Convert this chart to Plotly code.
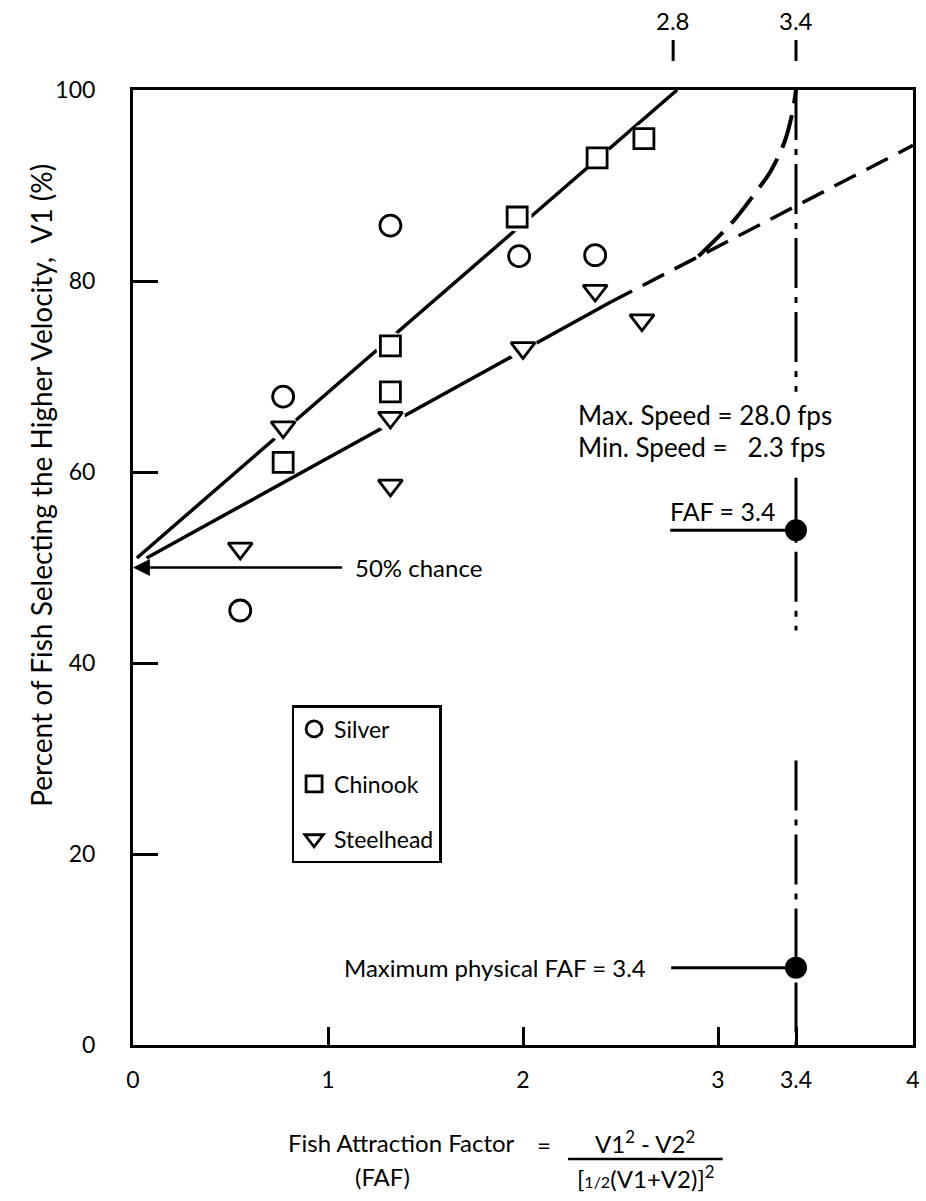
import plotly.graph_objects as go

# ---------------- data ----------------
silver_x = [0.55, 0.77, 1.32, 1.98, 2.37]
silver_y = [45.5, 67.9, 85.8, 82.6, 82.7]

chinook_x = [0.77, 1.32, 1.32, 1.97, 2.38, 2.62]
chinook_y = [61.0, 73.2, 68.4, 86.7, 92.9, 94.9]

steelhead_x = [0.55, 0.77, 1.32, 1.32, 2.00, 2.37, 2.61]
steelhead_y = [52.0, 64.7, 65.7, 58.6, 73.0, 79.0, 75.9]

chinook_fit_x = [0.02, 2.79]
chinook_fit_y = [51.0, 100.0]

steelhead_fit_x = [0.07, 2.45]
steelhead_fit_y = [51.0, 77.8]

steelhead_ext_x = [2.45, 4.0]
steelhead_ext_y = [77.8, 94.2]

curve_x = [2.90, 3.08, 3.19, 3.27, 3.34, 3.38, 3.40]
curve_y = [82.6, 86.3, 89.2, 91.5, 94.5, 97.5, 100.0]

faf_max = 3.4
faf_line_y = [100, 68.4, None, 59.4, 43.4, None, 29.8, 0]
faf_dot_y = [53.9, 8.1]

x_tickvals = [0, 1, 2, 3, 3.4, 4]
x_ticktext = ["0", "1", "2", "3", "3.4", "4"]
y_tickvals = [0, 20, 40, 60, 80, 100]
top_marks = [2.77, 3.4]
top_labels = ["2.8", "3.4"]

FONT = "Lato, 'Noto Sans', sans-serif"
W, H = 926, 1201
L, R, T, B = 133, 6, 90, 156
PW, PH = W - L - R, H - T - B


def px(xp):
    return (xp - L) / PW


def py(yp):
    return (H - B - yp) / PH


fig = go.Figure()

# fitted lines
fig.add_trace(go.Scatter(x=chinook_fit_x, y=chinook_fit_y, mode="lines",
                         line=dict(color="black", width=3.5), showlegend=False, hoverinfo="skip"))
fig.add_trace(go.Scatter(x=steelhead_fit_x, y=steelhead_fit_y, mode="lines",
                         line=dict(color="black", width=3.5), showlegend=False, hoverinfo="skip"))
fig.add_trace(go.Scatter(x=steelhead_ext_x, y=steelhead_ext_y, mode="lines",
                         line=dict(color="black", width=3.5, dash="24px,12px"),
                         showlegend=False, hoverinfo="skip"))
fig.add_trace(go.Scatter(x=curve_x, y=curve_y, mode="lines",
                         line=dict(color="black", width=4, dash="34px,12px", shape="spline"),
                         showlegend=False, hoverinfo="skip"))
# vertical FAF = 3.4 line
fig.add_trace(go.Scatter(x=[faf_max if v is not None else None for v in faf_line_y], y=faf_line_y,
                         mode="lines", connectgaps=False,
                         line=dict(color="black", width=3, dash="50px,9px,6px,9px"),
                         showlegend=False, hoverinfo="skip"))

# white halos (gaps in lines around symbols)
fig.add_trace(go.Scatter(x=silver_x + chinook_x + steelhead_x,
                         y=silver_y + chinook_y + steelhead_y, mode="markers",
                         marker=dict(size=29, color="white", line=dict(width=0)),
                         showlegend=False, hoverinfo="skip"))

# data points
mk = dict(color="white", line=dict(color="black", width=2.8))
fig.add_trace(go.Scatter(x=silver_x, y=silver_y, mode="markers", name="Silver",
                         legendgroup="a", marker=dict(symbol="circle", size=21, **mk)))
fig.add_trace(go.Scatter(x=chinook_x, y=chinook_y, mode="markers", name="Chinook",
                         legendgroup="b", marker=dict(symbol="square", size=20, **mk)))
fig.add_trace(go.Scatter(x=steelhead_x, y=steelhead_y, mode="markers", name="Steelhead",
                         legendgroup="c", marker=dict(symbol="triangle-down", size=21, **mk)))

# FAF pointer lines and dots
fig.add_trace(go.Scatter(x=[2.755, faf_max], y=[faf_dot_y[0]] * 2, mode="lines",
                         line=dict(color="black", width=3), showlegend=False, hoverinfo="skip"))
fig.add_trace(go.Scatter(x=[2.76, faf_max], y=[faf_dot_y[1]] * 2, mode="lines",
                         line=dict(color="black", width=3), showlegend=False, hoverinfo="skip"))
fig.add_trace(go.Scatter(x=[faf_max] * 2, y=faf_dot_y, mode="markers",
                         marker=dict(size=22, color="black"), showlegend=False, hoverinfo="skip"))

TS = 24
ann = []
# 50 % chance arrow
ann.append(dict(x=0.0, y=50, ax=1.08, ay=50, xref="x", yref="y", axref="x", ayref="y",
                text="", showarrow=True, arrowhead=2, arrowsize=1.3, arrowwidth=2.6,
                arrowcolor="black", standoff=0))
ann.append(dict(x=1.13, y=50, xref="x", yref="y", text="50% chance", showarrow=False,
                xanchor="left", yanchor="middle", font=dict(size=TS)))
ann.append(dict(x=3.30, y=55.9, xref="x", yref="y", text="FAF = 3.4", showarrow=False,
                xanchor="right", yanchor="middle", font=dict(size=TS + 1)))
ann.append(dict(x=2.64, y=8.1, xref="x", yref="y", text="Maximum physical FAF = 3.4",
                showarrow=False, xanchor="right", yanchor="middle", font=dict(size=TS)))
ann.append(dict(x=2.27, y=66.0, xref="x", yref="y", text="Max. Speed = 28.0 fps",
                showarrow=False, xanchor="left", yanchor="middle", font=dict(size=26)))
ann.append(dict(x=2.27, y=62.6, xref="x", yref="y", text="Min. Speed =   2.3 fps",
                showarrow=False, xanchor="left", yanchor="middle", font=dict(size=26)))

# top marks
for v, t in zip(top_marks, top_labels):
    ann.append(dict(x=v, y=py(21), xref="x", yref="paper", text=t, showarrow=False,
                    xanchor="center", yanchor="middle", font=dict(size=TS)))

# y-axis title
ann.append(dict(x=px(40), y=py(485), xref="paper", yref="paper",
                text="Percent of Fish Selecting the Higher Velocity,  V1 (%)",
                textangle=-90, showarrow=False, xanchor="center", yanchor="middle",
                font=dict(size=28)))

# x-axis formula title
FS = 24
ann.append(dict(x=px(520), y=py(1142), xref="paper", yref="paper",
                text="Fish Attraction Factor", showarrow=False, xanchor="right",
                yanchor="middle", font=dict(size=FS)))
ann.append(dict(x=px(385), y=py(1176), xref="paper", yref="paper", text="(FAF)",
                showarrow=False, xanchor="center", yanchor="middle", font=dict(size=FS)))
ann.append(dict(x=px(548), y=py(1144), xref="paper", yref="paper", text="=",
                showarrow=False, xanchor="center", yanchor="middle", font=dict(size=FS)))
ann.append(dict(x=px(650), y=py(1142), xref="paper", yref="paper",
                text="V1<sup>2</sup> - V2<sup>2</sup>", showarrow=False,
                xanchor="center", yanchor="middle", font=dict(size=FS)))
ann.append(dict(x=px(650), y=py(1177), xref="paper", yref="paper",
                text="[<span style='font-size:16px'>1/2</span>(V1+V2)]<sup>2</sup>",
                showarrow=False, xanchor="center", yanchor="middle", font=dict(size=FS)))

shapes = []
# fraction bar
shapes.append(dict(type="line", xref="paper", yref="paper", x0=px(572), x1=px(728),
                   y0=py(1159), y1=py(1159), line=dict(color="black", width=2.5)))
# little tick marks above the frame
for v in top_marks:
    shapes.append(dict(type="line", xref="x", yref="paper", x0=v, x1=v,
                       y0=py(61), y1=py(40), line=dict(color="black", width=3)))

fig.update_layout(
    width=W, height=H,
    margin=dict(l=L, r=R, t=T, b=B),
    paper_bgcolor="white", plot_bgcolor="white",
    font=dict(family=FONT, color="black", size=TS),
    annotations=ann, shapes=shapes,
    showlegend=True,
    legend=dict(x=px(293), y=py(705), xanchor="left", yanchor="top",
                bordercolor="black", borderwidth=2.5, bgcolor="white",
                font=dict(size=23), tracegroupgap=22, itemsizing="trace"),
)
fig.update_xaxes(range=[0, 4], tickvals=x_tickvals, ticktext=x_ticktext,
                 showline=True, mirror=True, linecolor="black", linewidth=3,
                 ticks="inside", ticklen=18, tickwidth=3, tickcolor="black",
                 showgrid=False, zeroline=False, ticklabelstandoff=12,
                 tickfont=dict(size=23))
fig.update_yaxes(range=[0, 100], tickvals=y_tickvals,
                 showline=True, mirror=True, linecolor="black", linewidth=3,
                 ticks="inside", ticklen=25, tickwidth=3, tickcolor="black",
                 showgrid=False, zeroline=False, ticklabelstandoff=30,
                 tickfont=dict(size=23))

fig.write_html("out.html", config={"displayModeBar": False},
               post_script="document.body.style.margin='0';document.body.style.overflow='hidden';")
